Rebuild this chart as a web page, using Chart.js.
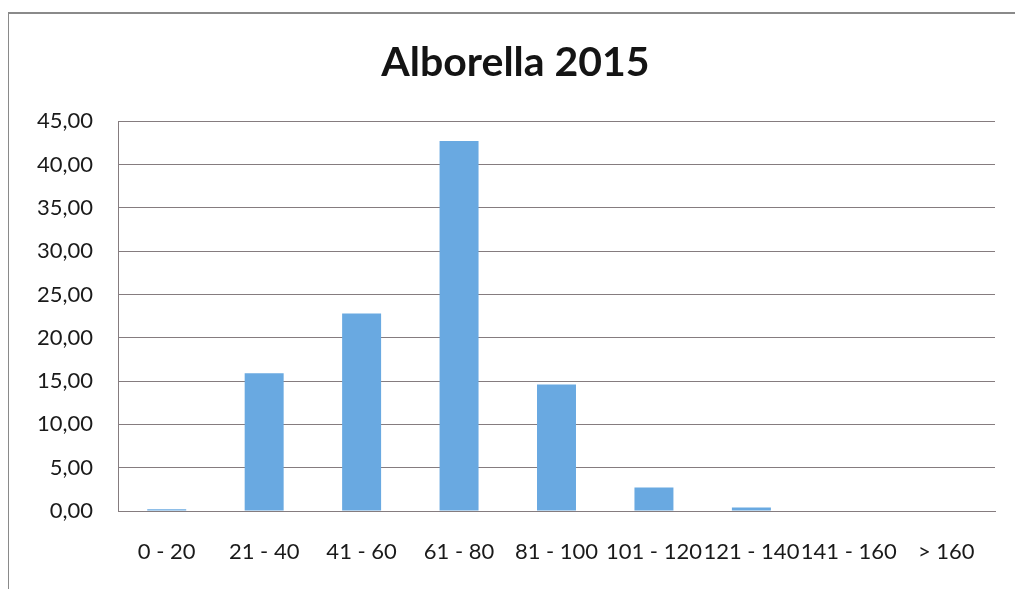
<!DOCTYPE html>
<html>
<head>
<meta charset="utf-8">
<script src="https://cdn.jsdelivr.net/npm/chart.js@4/dist/chart.umd.min.js"></script>
<style>
  html, body { margin: 0; padding: 0; background: #ffffff; }
  #wrap { position: relative; width: 1015px; height: 589px; }
  #frame {
    position: absolute; left: 8px; top: 12px; right: 0; bottom: 0;
    border-top: 2px solid #8a8a8a; border-left: 1px solid #8a8a8a;
    pointer-events: none;
  }
  canvas { position: absolute; left: 0; top: 0; }
</style>
</head>
<body>
<div id="wrap">
  <canvas id="chart" width="1015" height="589"></canvas>
  <div id="frame"></div>
</div>
<script>
// Length classes (cm) and the share of fish in each class
const categories = ['0 - 20', '21 - 40', '41 - 60', '61 - 80', '81 - 100', '101 - 120', '121 - 140', '141 - 160', '> 160'];
const percentages = [0.2, 15.9, 22.8, 42.7, 14.6, 2.7, 0.4, 0, 0];
const yTicks = [0, 5, 10, 15, 20, 25, 30, 35, 40, 45];
const chartTitle = 'Alborella 2015';

const FONT = 'Lato, "Open Sans", sans-serif';
const gridColor = '#857c7f';

new Chart(document.getElementById('chart'), {
  type: 'bar',
  data: {
    labels: categories,
    datasets: [{
      data: percentages,
      backgroundColor: '#69a9e1',
      borderWidth: 0,
      categoryPercentage: 1,
      barPercentage: 0.4
    }]
  },
  options: {
    responsive: false,
    animation: false,
    layout: { padding: { left: 36, right: 20, top: 0, bottom: 0 } },
    plugins: {
      legend: { display: false },
      tooltip: { enabled: false },
      title: {
        display: true,
        text: chartTitle,
        color: '#141414',
        font: { family: FONT, size: 41, weight: 'bold', lineHeight: 1.2 },
        padding: { top: 38, bottom: 34 }
      }
    },
    scales: {
      y: {
        min: 0, max: 45,
        afterBuildTicks: (s) => { s.ticks = yTicks.map(v => ({ value: v })); },
        afterFit: (s) => { s.width = 82; },
        ticks: {
          color: '#1a1a1a',
          font: { family: FONT, size: 22 },
          padding: 25,
          callback: (v) => v.toFixed(2).replace('.', ',')
        },
        grid: { color: gridColor, lineWidth: 1, drawTicks: false },
        border: { color: gridColor, width: 1 }
      },
      x: {
        afterFit: (s) => { s.height = 78; },
        ticks: {
          color: '#1a1a1a',
          font: { family: FONT, size: 22 },
          padding: 28,
          maxRotation: 0,
          autoSkip: false
        },
        grid: { display: false, drawTicks: false },
        border: { color: gridColor, width: 1 }
      }
    }
  }
});
</script>
</body>
</html>
